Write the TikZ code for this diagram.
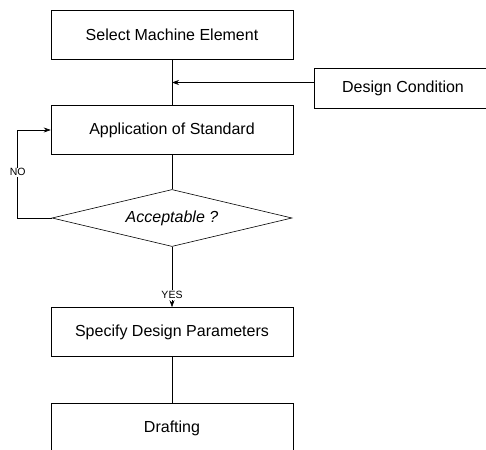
\documentclass[tikz,border=0pt]{standalone}
\usepackage{fontspec}
\setmainfont{Liberation Sans}
\usetikzlibrary{arrows.meta,shapes.geometric,calc}

\begin{document}
\begin{tikzpicture}[x=1pt,y=-1pt,>={Stealth[length=7pt,width=5pt]},line width=0.6pt,
  node distance=95pt,font=\fontsize{16}{18}\selectfont]
  \tikzstyle{step box}=[draw,rectangle,minimum width=242pt,minimum height=49pt]
  \tikzstyle{test}=[draw,diamond,aspect=4.2,minimum width=240pt,minimum height=57pt,
    inner sep=0pt,font=\fontsize{16}{18}\selectfont\itshape]
  \tikzstyle{tag}=[fill=white,inner sep=1pt,font=\fontsize{10.5}{12}\selectfont]

  \useasboundingbox (0,0) rectangle (486,449);

  \node[step box] (sel) at (172,35) {Select Machine Element};
  \node[step box] (app) [below of=sel] {Application of Standard};
  \node[test]     (acc) [below of=app,node distance=88pt] {Acceptable ?};
  \node[step box] (spec) [below of=acc,node distance=114pt] {Specify Design Parameters};
  \node[step box] (draft) [below of=spec,node distance=96pt] {Drafting};
  \node[step box,minimum width=178pt,minimum height=40pt] (dc) at (403,88) {Design Condition};

  \coordinate (join) at ($(sel.south)!0.5!(app.north)$);

  \draw (sel) -- (app);
  \draw[->] (join -| dc.west) -- (join);
  \draw (app) -- (acc);
  \draw[->] (acc.west) -- ++(-34,0) |- node[tag,pos=0.26] {NO} (app.west);
  \draw[->] (acc.south) -- node[tag,pos=0.8] {YES} (spec.north);
  \draw (spec) -- (draft);
\end{tikzpicture}
\end{document}
